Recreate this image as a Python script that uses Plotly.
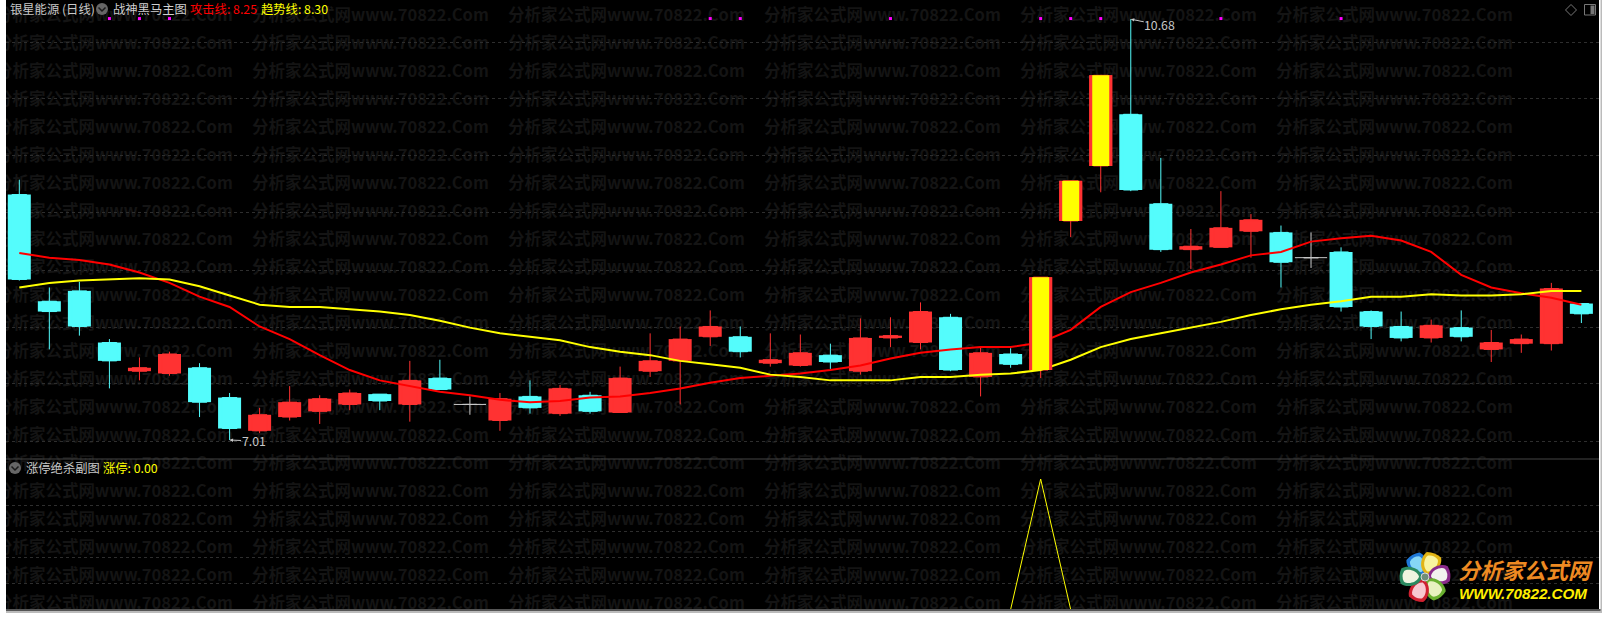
import math
import plotly.graph_objects as go

W, H = 1609, 617

opens = [9.15,8.22,8.31,7.86,7.61,7.59,7.64,7.38,7.09,7.21,7.26,7.32,7.41,7.32,7.55,7.32,7.18,7.39,7.24,7.40,7.25,7.61,7.70,7.91,7.91,7.68,7.66,7.75,7.61,7.90,7.86,8.08,7.56,7.76,7.62,8.92,9.40,9.85,9.07,8.67,8.69,8.83,8.82,8.60,8.65,8.13,8.00,7.90,7.99,7.80,7.85,7.85,8.20]
closes = [8.41,8.13,8.00,7.70,7.64,7.76,7.34,7.11,7.23,7.34,7.37,7.42,7.35,7.53,7.45,7.32,7.37,7.29,7.46,7.26,7.55,7.70,7.89,8.00,7.78,7.71,7.77,7.69,7.90,7.92,8.13,7.62,7.77,7.67,8.43,9.27,10.19,9.19,8.67,8.70,8.86,8.93,8.56,8.60,8.17,8.00,7.90,8.01,7.91,7.86,7.89,8.33,8.11]
highs = [9.28,8.34,8.39,7.89,7.73,7.78,7.68,7.42,7.29,7.48,7.40,7.45,7.41,7.70,7.71,7.39,7.42,7.53,7.49,7.43,7.65,7.94,8.00,8.14,8.00,7.94,7.93,7.85,8.07,8.08,8.21,8.11,7.82,7.81,8.43,9.27,10.19,10.68,9.47,8.85,9.18,8.98,8.88,8.82,8.69,8.14,8.13,8.06,8.14,7.97,7.93,8.38,8.20]
lows = [8.40,7.80,7.92,7.46,7.53,7.57,7.21,7.01,7.07,7.18,7.15,7.27,7.27,7.17,7.45,7.23,7.09,7.24,7.22,7.24,7.25,7.56,7.32,7.83,7.73,7.65,7.65,7.63,7.58,7.82,7.80,7.61,7.39,7.64,7.55,8.78,9.17,9.18,8.65,8.50,8.69,8.60,8.34,8.51,8.13,7.89,7.87,7.86,7.87,7.69,7.77,7.79,8.03]
attack_line = [8.64,8.60,8.58,8.54,8.47,8.38,8.26,8.17,8.00,7.89,7.75,7.62,7.53,7.48,7.43,7.40,7.36,7.34,7.35,7.38,7.39,7.42,7.46,7.51,7.55,7.57,7.59,7.62,7.66,7.72,7.77,7.80,7.82,7.82,7.86,7.97,8.17,8.30,8.38,8.47,8.54,8.62,8.65,8.74,8.77,8.79,8.75,8.65,8.45,8.34,8.29,8.25,8.19]
trend_line = [8.34,8.38,8.40,8.41,8.42,8.41,8.35,8.27,8.19,8.17,8.17,8.15,8.13,8.10,8.05,7.99,7.94,7.91,7.88,7.82,7.78,7.75,7.70,7.67,7.64,7.58,7.56,7.53,7.53,7.53,7.56,7.56,7.58,7.59,7.62,7.71,7.82,7.89,7.94,7.99,8.04,8.10,8.15,8.19,8.22,8.26,8.26,8.28,8.27,8.27,8.28,8.31,8.31]
limit_up_days = [34, 35, 36]
signal_days = [3, 4, 5, 23, 24, 29, 34, 35, 36, 40, 44]
signal_level = 10.685
limit_flag = [1 if i == 34 else 0 for i in range(len(opens))]
main_grid = [7.0, 7.5, 7.99, 8.49, 8.99, 9.49, 9.99, 10.48]
sub_grid = [0.2, 0.4, 0.6, 0.8]
watermark = "分析家公式网www.70822.Com"

assert all(len(a) == 53 for a in (opens, closes, highs, lows, attack_line, trend_line))

days = list(range(len(opens)))
FONT = "Noto Sans CJK SC"
UP, DOWN, DOJI = "#FF3232", "#54FCFC", "#C8C8C8"
BODY = 0.766


def X(px):
    return px / W


def Y(py):
    return 1 - py / H


def subset(cond):
    idx = [i for i in days if cond(i)]
    return dict(x=idx, open=[opens[i] for i in idx], high=[highs[i] for i in idx],
                low=[lows[i] for i in idx], close=[closes[i] for i in idx])


fig = go.Figure()

# watermark layer (first subplot, below everything)
wm_x, wm_y = [], []
for col in range(6):
    for row in range(22):
        wm_x.append(-4 + 256 * col)
        wm_y.append(17 + 28 * row)
fig.add_trace(go.Scatter(x=wm_x, y=wm_y, mode="text", text=[watermark] * len(wm_x),
                         textposition="middle right",
                         textfont=dict(family=FONT, size=16.5, color="#141414", weight="bold"),
                         xaxis="x", yaxis="y", hoverinfo="skip", showlegend=False))

# candles: body bars plus wicks
for cond, col in ((lambda i: closes[i] > opens[i], UP),
                  (lambda i: closes[i] < opens[i], DOWN)):
    idx = [i for i in days if cond(i)]
    fig.add_trace(go.Bar(x=idx, base=[min(opens[i], closes[i]) for i in idx],
                         y=[abs(closes[i] - opens[i]) for i in idx], width=BODY,
                         marker=dict(color=col, line=dict(width=0)),
                         xaxis="x2", yaxis="y2", hoverinfo="skip", showlegend=False))
for cond, col in ((lambda i: closes[i] > opens[i], UP),
                  (lambda i: closes[i] < opens[i], DOWN),
                  (lambda i: closes[i] == opens[i], DOJI)):
    fig.add_trace(go.Candlestick(**subset(cond), xaxis="x2", yaxis="y2", whiskerwidth=0,
                                 increasing=dict(line=dict(color=col, width=1), fillcolor=col),
                                 decreasing=dict(line=dict(color=col, width=1), fillcolor=col),
                                 hoverinfo="skip", showlegend=False))
doji_days = [i for i in days if closes[i] == opens[i]]
fig.add_trace(go.Scatter(x=doji_days, y=[closes[i] for i in doji_days], mode="markers",
                         marker=dict(symbol="line-ew", size=23, color=DOJI, line=dict(color=DOJI, width=1)),
                         xaxis="x2", yaxis="y2", hoverinfo="skip", showlegend=False))

fig.add_trace(go.Scatter(x=days, y=attack_line, mode="lines", line=dict(color="#FF0000", width=2),
                         xaxis="x2", yaxis="y2", hoverinfo="skip", showlegend=False))
fig.add_trace(go.Scatter(x=days, y=trend_line, mode="lines", line=dict(color="#FFFF00", width=2),
                         xaxis="x2", yaxis="y2", hoverinfo="skip", showlegend=False))
fig.add_trace(go.Scatter(x=signal_days, y=[signal_level] * len(signal_days), mode="markers",
                         marker=dict(symbol="square", size=3, color="#FF00FF", line=dict(width=0)),
                         xaxis="x2", yaxis="y2", hoverinfo="skip", showlegend=False))

# limit-up candles: drawn over the averages in an overlaid subplot
lu_base = [opens[i] for i in limit_up_days]
lu_size = [closes[i] - opens[i] for i in limit_up_days]
fig.add_trace(go.Bar(x=limit_up_days, y=lu_size, base=lu_base, width=BODY, marker=dict(color=UP, line=dict(width=0)),
                     xaxis="x2", yaxis="y4", hoverinfo="skip", showlegend=False))
fig.add_trace(go.Bar(x=limit_up_days, y=lu_size, base=lu_base, width=0.566, marker=dict(color="#FFFF00", line=dict(width=0)),
                     xaxis="x2", yaxis="y4", hoverinfo="skip", showlegend=False))

# sub pane
fig.add_trace(go.Scatter(x=days, y=limit_flag, mode="lines", line=dict(color="#FFFF00", width=1),
                         xaxis="x3", yaxis="y3", hoverinfo="skip", showlegend=False))

x_range = [(6 - 19.3) / 30.04, (1599 - 19.3) / 30.04]
x_domain = [X(6), X(1599)]
main_range = [7.01 + (440 - 459) * 0.00872, 7.01 + 440 * 0.00872]
sub_range = [(609.5 - 609) / 130.5, (609.5 - 459) / 130.5]
hidden = dict(visible=False)
grid = dict(showgrid=True, gridcolor="#2E2E2E", griddash="dot", gridwidth=1, zeroline=False,
            showticklabels=False, ticks="", showline=False, tickmode="array")

shapes = [
    dict(type="rect", xref="paper", yref="paper", layer="below", x0=X(6), x1=X(1599), y0=Y(609), y1=Y(0),
         fillcolor="#000000", line=dict(width=0)),
    dict(type="line", xref="paper", yref="paper", x0=X(6), x1=X(1599), y0=Y(459), y1=Y(459),
         line=dict(color="#444444", width=1)),
    dict(type="rect", xref="paper", yref="paper", x0=X(6), x1=X(1602), y0=Y(609), y1=Y(611),
         fillcolor="#555555", line=dict(width=0)),
    dict(type="rect", xref="paper", yref="paper", x0=X(6), x1=X(1602), y0=Y(611), y1=Y(613),
         fillcolor="#BBBBBB", line=dict(width=0)),
    dict(type="rect", xref="paper", yref="paper", x0=X(1600.5), x1=X(1602), y0=Y(0), y1=Y(613),
         fillcolor="#BBBBBB", line=dict(width=0)),
]


def path(points, close=True):
    s = "M" + " L".join(f"{X(a):.6f},{Y(b):.6f}" for a, b in points)
    return s + (" Z" if close else "")


def collapse_icon(cx, cy):
    shapes.append(dict(type="circle", xref="paper", yref="paper", x0=X(cx - 6), x1=X(cx + 6),
                       y0=Y(cy + 6), y1=Y(cy - 6), fillcolor="#666666", line=dict(width=0)))
    shapes.append(dict(type="path", xref="paper", yref="paper",
                       path=path([(cx - 3.5, cy - 1.5), (cx, cy + 2), (cx + 3.5, cy - 1.5)], False),
                       line=dict(color="#1A1A1A", width=1.5)))


collapse_icon(102, 9)
collapse_icon(15, 468)

# top-right tool icons
shapes.append(dict(type="path", xref="paper", yref="paper",
                   path=path([(1571, 4.5), (1576.5, 10), (1571, 15.5), (1565.5, 10)]),
                   line=dict(color="#777777", width=1)))
shapes.append(dict(type="rect", xref="paper", yref="paper", x0=X(1584.5), x1=X(1595.5), y0=Y(15), y1=Y(4.5),
                   line=dict(color="#777777", width=1)))
shapes.append(dict(type="rect", xref="paper", yref="paper", x0=X(1590.5), x1=X(1594.5), y0=Y(14), y1=Y(5.5),
                   fillcolor="#777777", line=dict(width=0)))

# logo flower
FLOWER = (1425, 577)
PETALS = [(120, "#1E78D8", "#86D6F6"), (68, "#E2B414", "#F8F4A0"), (8, "#8A2A8A", "#F2F2EE"),
          (-52, "#6AB030", "#E8F2C0"), (-112, "#D02030", "#F8C8D0"), (178, "#2A8A60", "#EEF4E0")]


def petal(angle, r0, r1, half):
    a = math.radians(angle)
    ux, uy = math.cos(a), -math.sin(a)
    vx, vy = -uy, ux
    cx, cy = FLOWER

    def pt(t, s):
        return f"{X(cx + ux * t + vx * s):.6f},{Y(cy + uy * t + vy * s):.6f}"

    mid = (r0 + r1) * 0.62
    return (f"M{pt(r0, 0)} C{pt(r0 + 2, half)} {pt(mid, half * 1.25)} {pt(r1 - 2, half * 0.8)} "
            f"Q{pt(r1 + 1, 0)} {pt(r1 - 2, -half * 0.8)} "
            f"C{pt(mid, -half * 1.25)} {pt(r0 + 2, -half)} {pt(r0, 0)} Z")


for angle, outer, inner in PETALS:
    shapes.append(dict(type="path", xref="paper", yref="paper", path=petal(angle, 3, 26, 9.5),
                       fillcolor=outer, line=dict(width=0)))
    shapes.append(dict(type="path", xref="paper", yref="paper", path=petal(angle, 6, 23, 6.5),
                       fillcolor=inner, line=dict(width=0)))
shapes.append(dict(type="circle", xref="paper", yref="paper", x0=X(FLOWER[0] - 4), x1=X(FLOWER[0] + 4),
                   y0=Y(FLOWER[1] + 4), y1=Y(FLOWER[1] - 4), fillcolor="#6E8E7A", line=dict(color="#D8D8D8", width=1)))


def label(px, py, text, color, size=12.3, family=FONT, **kw):
    return dict(xref="paper", yref="paper", x=X(px), y=Y(py), text=text, showarrow=False,
                xanchor="left", yanchor="middle", font=dict(family=family, size=size, color=color),
                borderpad=0, **kw)


annotations = [
    label(8.5, 9, "银星能源 (日线)", "#C8C8C8"),
    label(111.5, 9, "战神黑马主图", "#D0D0D0"),
    label(188.5, 9, "攻击线: 8.25", "#FF0000"),
    label(259.5, 9, "趋势线: 8.30", "#FFFF00"),
    label(24.5, 468, "涨停绝杀副图", "#C8C8C8"),
    label(101.5, 468, "涨停: 0.00", "#FFFF00"),
    label(1457, 569, "<b><i>分析家公式网</i></b>", "#EE8A22", size=22),
    label(1458, 593, "<b><i>WWW.70822.COM</i></b>", "#FFF000", size=15.2, family="Liberation Sans"),
    dict(xref="x2", yref="y2", x=37, y=max(highs), text="10.68", showarrow=True, arrowhead=2, arrowsize=0.7,
         arrowwidth=1, arrowcolor="#C8C8C8", ax=29, ay=6, standoff=0, borderpad=0,
         font=dict(family=FONT, size=12.3, color="#C8C8C8")),
    dict(xref="x2", yref="y2", x=7, y=min(lows), text="7.01", showarrow=True, arrowhead=2, arrowsize=0.7,
         arrowwidth=1, arrowcolor="#C8C8C8", ax=24, ay=1, standoff=0, borderpad=0,
         font=dict(family=FONT, size=12.3, color="#C8C8C8")),
]

fig.update_layout(
    width=W, height=H, autosize=False, margin=dict(l=0, r=0, t=0, b=0, pad=0),
    paper_bgcolor="#FFFFFF", plot_bgcolor="rgba(0,0,0,0)", showlegend=False, hovermode=False,
    barmode="overlay",
    xaxis=dict(domain=x_domain, range=[6, 1599], anchor="y", **hidden),
    yaxis=dict(domain=[Y(609), 1], range=[609, 0], anchor="x", **hidden),
    xaxis2=dict(domain=x_domain, range=x_range, anchor="y2", rangeslider=dict(visible=False), **hidden),
    yaxis2=dict(domain=[Y(459), 1], range=main_range, anchor="x2", tickvals=main_grid, **grid),
    yaxis4=dict(domain=[Y(459), 1], range=main_range, anchor="x2", overlaying="y2", **hidden),
    xaxis3=dict(domain=x_domain, range=x_range, anchor="y3", **hidden),
    yaxis3=dict(domain=[Y(609), Y(459)], range=sub_range, anchor="x3", tickvals=sub_grid, **grid),
    shapes=shapes, annotations=annotations,
)

fig.write_html("out.html", config={"displayModeBar": False},
               post_script="document.body.style.margin='0';document.body.style.overflow='hidden';")
